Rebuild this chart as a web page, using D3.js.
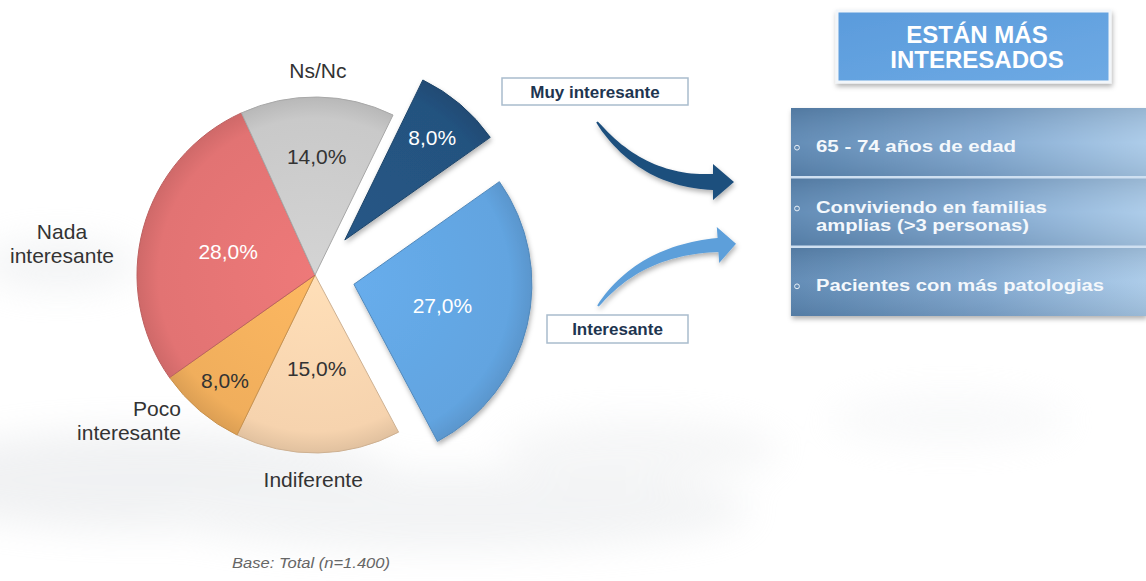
<!DOCTYPE html>
<html>
<head>
<meta charset="utf-8">
<script src="https://cdn.jsdelivr.net/npm/d3@7"></script>
<style>
  html, body { margin: 0; padding: 0; background: #fff; }
  svg { display: block; font-family: "Liberation Sans", Arial, sans-serif; }
</style>
</head>
<body>
<div id="chart"></div>
<script>
(function drawChart() {
  // Data
  const categories = ['Muy interesante', 'Interesante', 'Indiferente', 'Poco interesante', 'Nada interesante', 'Ns/Nc'];
  const values = [8.0, 27.0, 15.0, 8.0, 28.0, 14.0];
  const palette = ['#24527f', '#62a4e0', '#f6d3ae', '#f0ae5c', '#e27373', '#c9c9c9'];
  const outerLabels = [null, null, ['Indiferente'], ['Poco', 'interesante'], ['Nada', 'interesante'], ['Ns/Nc']];
  const headerLines = ['ESTÁN MÁS', 'INTERESADOS'];
  const profileRows = [['65 - 74 años de edad'], ['Conviviendo en familias', 'amplias (>3 personas)'], ['Pacientes con más patologias']];
  const baseNote = 'Base: Total (n=1.400)';

  const W = 1146, H = 581;
  const cx = 315, cy = 275, R = 178;
  const START = 26 * Math.PI / 180;

  // layout tweaks per slice (index-aligned)
  const explode = [46, 40, 0, 0, 0, 0];
  const labelR = [135, 91, 94, 139, 90, 118];
  const labelInk = ['#fff', '#fff', '#333', '#333', '#fff', '#333'];
  // [angle deg, radius, anchor]
  const outerPos = [null, null, [180.5, 205, 'middle'], [222.6, 198, 'end'], [277.1, 255, 'middle'], [0.8, 204, 'middle']];

  const svg = d3.select('#chart').append('svg').attr('width', W).attr('height', H);
  const defs = svg.append('defs');

  const blur = defs.append('filter').attr('id', 'bgblur').attr('x', '-50%').attr('y', '-50%').attr('width', '200%').attr('height', '200%');
  blur.append('feGaussianBlur').attr('stdDeviation', 18);

  const shadow = defs.append('filter').attr('id', 'shadow').attr('x', '-20%').attr('y', '-20%').attr('width', '140%').attr('height', '150%');
  shadow.append('feDropShadow').attr('dx', 1).attr('dy', 3).attr('stdDeviation', 2.5).attr('flood-color', '#000').attr('flood-opacity', 0.3);

  // faded background picture
  const bg = svg.append('g').attr('filter', 'url(#bgblur)').attr('opacity', 0.35);
  [[150, 480, 250, 50, '#d6d9dd'], [450, 510, 300, 40, '#dcdfe2'], [60, 265, 80, 25, '#dde0e3'], [640, 450, 140, 30, '#e4e6e8'], [950, 420, 120, 25, '#eceef0']]
    .forEach(e => bg.append('ellipse').attr('cx', e[0]).attr('cy', e[1]).attr('rx', e[2]).attr('ry', e[3]).attr('fill', e[4]));

  // gradients for slices
  palette.forEach((c, i) => {
    const g = defs.append('radialGradient').attr('id', 'sl' + i)
      .attr('gradientUnits', 'userSpaceOnUse').attr('cx', 0).attr('cy', 0).attr('r', R);
    g.append('stop').attr('offset', '0%').attr('stop-color', d3.color(c).brighter(0.15));
    g.append('stop').attr('offset', '88%').attr('stop-color', c);
    g.append('stop').attr('offset', '100%').attr('stop-color', d3.color(c).darker(0.25));
  });

  const pie = d3.pie().sort(null).value(d => d).startAngle(START).endAngle(START + 2 * Math.PI);
  const arcs = pie(values);
  const arc = d3.arc().innerRadius(0).outerRadius(R);

  const pieG = svg.append('g').attr('transform', `translate(${cx},${cy})`);
  const fmt = v => d3.format('.1f')(v).replace('.', ',') + '%';

  arcs.forEach((a, i) => {
    const mid = (a.startAngle + a.endAngle) / 2;
    const ox = Math.sin(mid) * explode[i], oy = -Math.cos(mid) * explode[i];
    const g = pieG.append('g').attr('transform', `translate(${ox},${oy})`);
    g.append('path')
      .attr('d', arc(a))
      .attr('fill', `url(#sl${i})`)
      .attr('stroke', d3.color(palette[i]).darker(0.5))
      .attr('stroke-width', 1)
      .attr('filter', explode[i] ? 'url(#shadow)' : null);
    g.append('text')
      .attr('x', Math.sin(mid) * labelR[i])
      .attr('y', -Math.cos(mid) * labelR[i])
      .attr('dy', '0.35em')
      .attr('text-anchor', 'middle')
      .attr('font-size', 21)
      .attr('fill', labelInk[i])
      .text(fmt(values[i]));
  });

  // outer category labels
  arcs.forEach((a, i) => {
    if (!outerLabels[i]) return;
    const ang = outerPos[i][0] * Math.PI / 180, r = outerPos[i][1];
    const x = Math.sin(ang) * r, y = -Math.cos(ang) * r;
    const lines = outerLabels[i];
    const t = pieG.append('text').attr('text-anchor', outerPos[i][2]).attr('font-size', 21).attr('fill', '#333');
    lines.forEach((l, k) => {
      t.append('tspan').attr('x', x).attr('y', y + (k - (lines.length - 1) / 2) * 24).attr('dy', '0.35em').text(l);
    });
  });

  // tapered curved arrows
  function arrowPath(p0, c, p1, w0, w1, hw, hl) {
    const n = 30, left = [], right = [];
    let tx = 1, ty = 0;
    for (let k = 0; k <= n; k++) {
      const t = k / n;
      const x = (1 - t) * (1 - t) * p0[0] + 2 * (1 - t) * t * c[0] + t * t * p1[0];
      const y = (1 - t) * (1 - t) * p0[1] + 2 * (1 - t) * t * c[1] + t * t * p1[1];
      const dx = 2 * (1 - t) * (c[0] - p0[0]) + 2 * t * (p1[0] - c[0]);
      const dy = 2 * (1 - t) * (c[1] - p0[1]) + 2 * t * (p1[1] - c[1]);
      const len = Math.hypot(dx, dy);
      tx = dx / len; ty = dy / len;
      const w = (w0 + (w1 - w0) * Math.pow(t, 0.8)) / 2;
      left.push([x - ty * w, y + tx * w]);
      right.push([x + ty * w, y - tx * w]);
    }
    const head = [
      [p1[0] + ty * hw, p1[1] - tx * hw],
      [p1[0] + tx * hl, p1[1] + ty * hl],
      [p1[0] - ty * hw, p1[1] + tx * hw]
    ];
    const pts = right.concat(head).concat(left.reverse());
    return 'M' + pts.map(p => p[0].toFixed(1) + ',' + p[1].toFixed(1)).join('L') + 'Z';
  }

  svg.append('path')
    .attr('d', arrowPath([597, 122], [642, 182], [713, 182], 2, 16, 18, 21))
    .attr('fill', '#1f4f7d').attr('filter', 'url(#shadow)');
  svg.append('path')
    .attr('d', arrowPath([598, 306], [640, 250], [718, 245], 2, 14, 18, 18))
    .attr('fill', '#5d9fda').attr('filter', 'url(#shadow)');

  // callout boxes
  function callout(x, y, w, h, txt) {
    svg.append('rect').attr('x', x).attr('y', y).attr('width', w).attr('height', h)
      .attr('fill', '#fff').attr('stroke', '#a9bccd').attr('stroke-width', 1.5);
    svg.append('text').attr('x', x + w / 2).attr('y', y + h / 2).attr('dy', '0.36em')
      .attr('text-anchor', 'middle').attr('font-size', 17).attr('font-weight', 'bold')
      .attr('fill', '#1e3550').text(txt);
  }
  callout(502, 78, 186, 27, categories[0]);
  callout(547, 315, 141, 28, categories[1]);

  // header box
  const hg = defs.append('linearGradient').attr('id', 'hdr').attr('x1', 0).attr('y1', 0).attr('x2', 1).attr('y2', 1);
  hg.append('stop').attr('offset', '0%').attr('stop-color', '#5a9bdc');
  hg.append('stop').attr('offset', '100%').attr('stop-color', '#6eaae4');
  svg.append('rect').attr('x', 837).attr('y', 11).attr('width', 273).attr('height', 71)
    .attr('fill', 'url(#hdr)').attr('stroke', '#f2f6fa').attr('stroke-width', 3).attr('filter', 'url(#shadow)');
  const ht = svg.append('text').attr('text-anchor', 'middle').attr('font-size', 24).attr('font-weight', 'bold').attr('fill', '#fff');
  headerLines.forEach((l, k) => ht.append('tspan').attr('x', 977).attr('y', 43 + k * 25).text(l));

  // profile panel
  const pg = defs.append('linearGradient').attr('id', 'row').attr('x1', 0).attr('y1', 0).attr('x2', 1).attr('y2', 0);
  pg.append('stop').attr('offset', '0%').attr('stop-color', '#5a86b2');
  pg.append('stop').attr('offset', '55%').attr('stop-color', '#7ea6cf');
  pg.append('stop').attr('offset', '100%').attr('stop-color', '#a8c9e8');
  const pv = defs.append('linearGradient').attr('id', 'rowshade').attr('x1', 0).attr('y1', 0).attr('x2', 0).attr('y2', 1);
  pv.append('stop').attr('offset', '0%').attr('stop-color', '#000').attr('stop-opacity', 0.1);
  pv.append('stop').attr('offset', '50%').attr('stop-color', '#fff').attr('stop-opacity', 0.06);
  pv.append('stop').attr('offset', '100%').attr('stop-color', '#000').attr('stop-opacity', 0.08);

  const rowY = d3.scaleBand().domain(d3.range(profileRows.length)).range([108, 316]).paddingInner(0);
  // measured widths of the (wide) row lettering
  const rowWidths = [[200], [231, 213], [288]];
  svg.append('rect').attr('x', 791).attr('y', 108).attr('width', W - 791).attr('height', 208)
    .attr('fill', 'url(#row)').attr('filter', 'url(#shadow)');
  profileRows.forEach((lines, i) => {
    const y0 = rowY(i), h = rowY.bandwidth();
    svg.append('rect').attr('x', 791).attr('y', y0).attr('width', W - 791).attr('height', h).attr('fill', 'url(#rowshade)');
    if (i > 0) {
      svg.append('line').attr('x1', 791).attr('x2', W).attr('y1', y0).attr('y2', y0)
        .attr('stroke', '#cfe0f1').attr('stroke-width', 2.5);
    }
    const mid = y0 + h / 2 + 4;
    svg.append('circle').attr('cx', 797).attr('cy', mid - (lines.length - 1) * 8.5 + 1).attr('r', 2.4)
      .attr('fill', 'none').attr('stroke', '#e8f0f8').attr('stroke-width', 1);
    lines.forEach((l, k) => {
      svg.append('text').attr('font-size', 16).attr('font-weight', 'bold').attr('fill', '#f4f8fc')
        .attr('x', 816).attr('y', mid + (k - (lines.length - 1) / 2) * 17.5).attr('dy', '0.36em')
        .attr('textLength', rowWidths[i][k]).attr('lengthAdjust', 'spacingAndGlyphs')
        .text(l);
    });
  });

  // base note
  svg.append('text').attr('x', 311).attr('y', 568).attr('text-anchor', 'middle')
    .attr('font-size', 15).attr('font-style', 'italic').attr('fill', '#666')
    .attr('textLength', 158).attr('lengthAdjust', 'spacingAndGlyphs').text(baseNote);
})();
</script>
</body>
</html>
